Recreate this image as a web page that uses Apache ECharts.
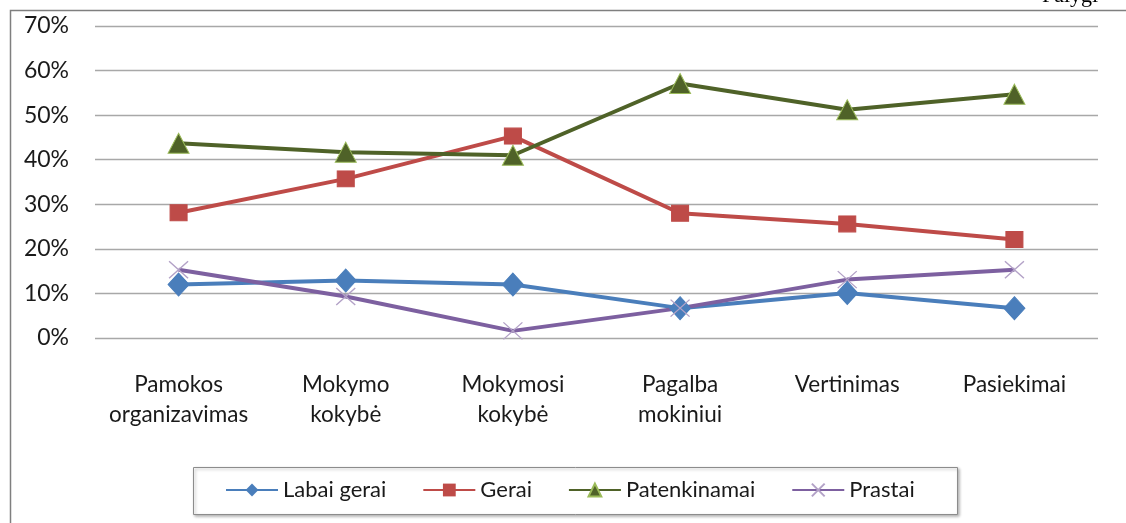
<!DOCTYPE html>
<html>
<head>
<meta charset="utf-8">
<script src="https://cdn.jsdelivr.net/npm/echarts@6/dist/echarts.min.js"></script>
<style>
html,body{margin:0;padding:0;background:#fff;}
#chart{width:1126px;height:523px;}
</style>
</head>
<body>
<div id="chart"></div>
<script>
const categories = ['Pamokos\norganizavimas', 'Mokymo\nkokybė', 'Mokymosi\nkokybė', 'Pagalba\nmokiniui', 'Vertinimas', 'Pasiekimai'];
const labaiGerai = [12.0, 12.9, 12.0, 6.7, 10.1, 6.7];
const gerai = [28.1, 35.7, 45.3, 28.0, 25.6, 22.1];
const patenkinamai = [43.7, 41.7, 41.0, 57.1, 51.2, 54.7];
const prastai = [15.3, 9.3, 1.6, 6.7, 13.1, 15.3];
const yTicks = [0, 10, 20, 30, 40, 50, 60, 70];
const seriesNames = ['Labai gerai', 'Gerai', 'Patenkinamai', 'Prastai'];

const FONT = 'Lato, "Open Sans", sans-serif';
const chart = echarts.init(document.getElementById('chart'), null, {renderer: 'canvas'});

function lineSeries(name, data, color, symbol, symbolSize, itemStyle) {
  return {
    name: name, type: 'line', data: data,
    symbol: symbol, symbolSize: symbolSize,
    showAllSymbol: true,
    lineStyle: {color: color, width: 4},
    itemStyle: itemStyle,
    emphasis: {disabled: true},
    animation: false,
    z: 3
  };
}

const xPath = 'path://M0,0 L10,10 M10,0 L0,10';

chart.setOption({
  backgroundColor: '#ffffff',
  animation: false,
  grid: {left: 95, right: 28, top: 26, bottom: 185, containLabel: false},
  xAxis: {
    type: 'category',
    data: categories,
    boundaryGap: true,
    axisLine: {show: false},
    axisTick: {show: false},
    axisLabel: {color: '#1a1a1a', fontFamily: FONT, fontSize: 22.5, lineHeight: 30, margin: 32, interval: 0}
  },
  yAxis: {
    type: 'value',
    min: yTicks[0], max: yTicks[yTicks.length - 1], interval: 10,
    axisLine: {show: false},
    axisTick: {show: false},
    splitLine: {lineStyle: {color: '#a8a8a8', width: 1.3}},
    axisLabel: {formatter: '{value}%', color: '#1a1a1a', fontFamily: FONT, fontSize: 23, margin: 26}
  },
  legend: {
    data: seriesNames,
    left: 211, top: 467,
    padding: [12, 14, 12, 14],
    borderWidth: 0,
    itemWidth: 52, itemHeight: 16, itemGap: 36,
    textStyle: {color: '#1a1a1a', fontFamily: FONT, fontSize: 22},
    selectedMode: false,
    z: 10
  },
  graphic: [
    {type: 'rect', z: 1, shape: {x: 193.5, y: 467.5, width: 764, height: 47}, style: {fill: '#fff', stroke: '#8c8c8c', lineWidth: 1, shadowColor: 'rgba(0,0,0,0.3)', shadowBlur: 3, shadowOffsetX: 1.5, shadowOffsetY: 1.5}, silent: true},
    {type: 'polyline', shape: {points: [[10.5, 530], [10.5, 10.5], [1130, 10.5]]}, style: {stroke: '#7f7f7f', lineWidth: 1.5, fill: null}, silent: true},
    {type: 'text', left: 1042, top: -15, style: {text: 'Palygi', font: '22px "Liberation Serif", serif', fill: '#000'}, silent: true}
  ],
  series: [
    lineSeries(seriesNames[0], labaiGerai, '#4a7ebb', 'diamond', [21, 23], {color: '#4a7ebb', borderColor: '#4a7ebb'}),
    lineSeries(seriesNames[1], gerai, '#be4b48', 'rect', [17, 16], {color: '#be4b48', borderColor: '#be4b48'}),
    lineSeries(seriesNames[2], patenkinamai, '#4f6228', 'triangle', [21, 20], {color: '#4f6228', borderColor: '#9bbb59', borderWidth: 1}),
    lineSeries(seriesNames[3], prastai, '#7d60a0', xPath, [19, 17], {color: 'transparent', borderColor: '#b3a2c7', borderWidth: 1.3})
  ]
});
</script>
</body>
</html>
